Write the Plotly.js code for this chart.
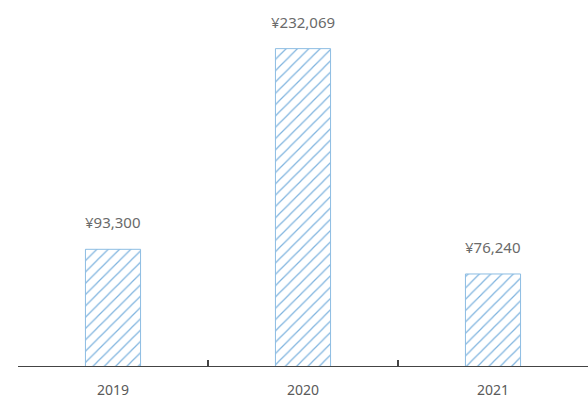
<!DOCTYPE html>
<html>
<head>
<meta charset="utf-8">
<script src="https://cdn.plot.ly/plotly-3.0.1.min.js"></script>
<style>html,body{margin:0;padding:0;background:#fff;}#chart{width:588px;height:400px;}</style>
</head>
<body>
<div id="chart"></div>
<script>
const years = ['2019', '2020', '2021'];
const amounts = [93300, 232069, 76240];
const labels = ['¥93,300', '¥232,069', '¥76,240'];

const trace = {
  type: 'bar',
  x: years,
  y: amounts,
  width: 0.29,
  marker: {
    color: '#ffffff',
    line: {color: '#8dbde3', width: 1},
    pattern: {shape: '/', fgcolor: '#7fb4df', bgcolor: '#ffffff', size: 8, solidity: 0.15}
  },
  hoverinfo: 'none'
};

// category axis: annotation x uses the category's serial index
const annotations = years.map((y, i) => ({
  xref: 'x', yref: 'y',
  x: i, y: amounts[i], text: labels[i], showarrow: false,
  yanchor: 'middle', yshift: 27,
  font: {family: 'Noto Sans, sans-serif', size: 15, color: '#6a6a6a'}
}));

const layout = {
  width: 588, height: 400,
  margin: {l: 18, r: 0, t: 0, b: 34},
  paper_bgcolor: '#ffffff', plot_bgcolor: '#ffffff',
  showlegend: false,
  bargap: 0,
  xaxis: {
    type: 'category', range: [-0.5, 2.5],
    showline: true, linecolor: '#444444', linewidth: 1.2,
    ticks: 'inside', tickson: 'boundaries', ticklen: 6, tickcolor: '#444444', tickwidth: 1.2,
    showgrid: false, zeroline: false,
    ticklabelstandoff: 11,
    tickfont: {family: 'Noto Sans, sans-serif', size: 14, color: '#5a5a5a'}
  },
  yaxis: {
    range: [12600, 265700], visible: false, showgrid: false, zeroline: false
  },
  annotations: annotations
};

Plotly.newPlot('chart', [trace], layout, {displayModeBar: false, staticPlot: true});
</script>
</body>
</html>
